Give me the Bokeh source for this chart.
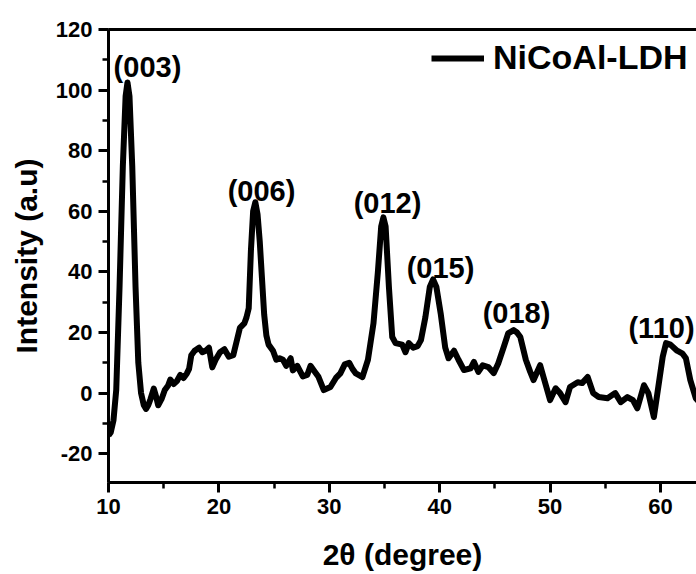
from bokeh.plotting import figure
from bokeh.models import (LinearAxis, SingleIntervalTicker, Range1d, Legend, LegendItem,
                          ColumnDataSource, PrintfTickFormatter)
from bokeh.core.properties import value
from bokeh.embed import file_html
from bokeh.resources import INLINE

# ---- data ----
two_theta = [10.0, 10.2, 10.45, 10.7, 11.0, 11.3, 11.55, 11.72, 11.9, 12.15, 12.45, 12.7, 12.95,
             13.2, 13.4, 13.6, 13.8, 14.1, 14.3, 14.5, 14.8, 15.1, 15.4, 15.6, 15.9, 16.2, 16.5,
             16.8, 17.1, 17.3, 17.5, 17.8, 18.2, 18.5, 18.8, 19.1, 19.4, 19.7, 20.1, 20.5, 20.9,
             21.3, 21.6, 21.9, 22.3, 22.5, 22.7, 22.9, 23.1, 23.3, 23.5, 23.7, 23.9, 24.1, 24.3,
             24.5, 24.9, 25.2,
             25.5, 25.8, 26.1, 26.5, 26.7, 27.1, 27.6, 28.0, 28.3, 28.7, 29.0, 29.5, 30.1, 30.6,
             31.0, 31.4, 31.8, 32.1, 32.4, 33.0, 33.5, 34.0, 34.4, 34.7, 34.9, 35.1, 35.4, 35.7,
             36.0, 36.6, 36.9, 37.2, 37.6, 38.0, 38.3, 38.7, 39.1, 39.4, 39.7, 40.1, 40.5, 40.8,
             41.3, 41.7, 42.2, 42.8, 43.1, 43.5, 43.9, 44.4, 44.9, 45.3, 45.8, 46.2, 46.7, 47.0,
             47.3, 47.8, 48.2, 48.5, 49.1, 49.4, 50.0, 50.5, 50.9, 51.4, 51.8, 52.5, 52.9, 53.4,
             53.9, 54.4, 55.2, 55.9, 56.4, 57.0, 57.5, 57.9, 58.5, 58.9, 59.4, 59.8, 60.2, 60.5,
             60.9, 61.5, 62.0, 62.3, 62.7, 63.2, 63.5]
intensity = [-14, -13, -9, 1, 35, 75, 98, 102.5, 98, 75, 35, 10, 0,
             -4, -5.2, -4, -2, 1.5, -1, -4, -2, 1, 2.5, 4.5, 3, 4, 6,
             5, 6.5, 8, 12.5, 14, 15, 13.5, 14, 15, 8.5, 11, 13.5, 14.5, 12,
             12.5, 17, 21.5, 23, 25, 28, 47, 60, 63, 59, 50, 38, 26, 19,
             16, 14, 11,
             11.5, 11, 9, 11.5, 7.5, 9, 5.5, 6, 9, 7, 5.5, 1, 2, 5,
             6.5, 9.5, 10, 8, 6.5, 5.3, 11, 23, 40, 55, 58, 55, 35, 18.5,
             16.5, 16, 13.5, 16.5, 15, 15.5, 17.5, 25, 35, 37.5, 35, 26, 15, 11.5,
             14, 11, 7.6, 8.2, 10.3, 7, 9.2, 8.6, 6.6, 9.8, 15.2, 19.7, 20.8, 20,
             18.5, 11, 7, 4.3, 9.2, 5.3, -2.3, 1.6, 0, -3, 2, 3.6, 3.3, 5.3,
             0, -1.3, -1.7, 0, -3, -1.3, -2.3, -5, 2.6, 0, -7.9, 2, 12, 16.5,
             16, 14, 13, 11.5, 4.3, -1.7, -3]

peak_labels = ["(003)", "(006)", "(012)", "(015)", "(018)", "(110)"]
peak_x = [13.53, 23.86, 35.27, 40.07, 46.96, 60.09]
peak_y = [104.2, 63.3, 59.3, 37.9, 23.1, 18.1]

series_name = "NiCoAl-LDH"
x_title = "2θ (degree)"
y_title = "Intensity (a.u)"

FONT = "Liberation Sans"

p = figure(width=696, height=574, output_backend="svg", toolbar_location=None,
           x_range=Range1d(10, 63.26), y_range=Range1d(-29.5, 120),
           min_border_left=108, min_border_right=0, min_border_top=29, min_border_bottom=92,
           x_axis_type=None, y_axis_type=None)
p.outline_line_color = None
p.xgrid.visible = False
p.ygrid.visible = False
p.background_fill_color = "white"
p.border_fill_color = "white"

def style_axis(ax):
    ax.axis_line_width = 3
    ax.axis_line_color = "black"
    ax.major_tick_line_width = 3
    ax.minor_tick_line_width = 2.5
    ax.major_tick_in = 0
    ax.minor_tick_in = 0
    ax.major_tick_out = 10
    ax.minor_tick_out = 6
    ax.major_label_text_font = FONT
    ax.major_label_text_font_style = "bold"
    ax.major_label_text_font_size = "22px"
    ax.major_label_text_color = "black"
    ax.axis_label_text_font = FONT
    ax.axis_label_text_font_style = "bold"
    ax.axis_label_text_font_size = "30px"
    ax.axis_label_text_color = "black"
    ax.formatter = PrintfTickFormatter(format="%d")

xaxis = LinearAxis(ticker=SingleIntervalTicker(interval=10, num_minor_ticks=2), axis_label=x_title)
style_axis(xaxis)
xaxis.major_label_standoff = 6
xaxis.axis_label_standoff = 21
p.add_layout(xaxis, "below")

yaxis = LinearAxis(ticker=SingleIntervalTicker(interval=20, num_minor_ticks=2), axis_label=y_title)
style_axis(yaxis)
yaxis.major_label_standoff = 6
yaxis.axis_label_standoff = 10
p.add_layout(yaxis, "left")

top = LinearAxis(ticker=SingleIntervalTicker(interval=10, num_minor_ticks=2))
top.axis_line_width = 3
top.major_tick_out = 0
top.major_tick_in = 0
top.minor_tick_out = 0
top.minor_tick_in = 0
top.major_label_text_font_size = "0px"
top.major_label_text_alpha = 0
p.add_layout(top, "above")

src = ColumnDataSource(dict(x=two_theta, y=intensity))
r = p.line("x", "y", source=src, line_width=6, line_color="black", line_join="round")

lab_src = ColumnDataSource(dict(x=peak_x, y=peak_y, t=peak_labels))
p.text("x", "y", text="t", source=lab_src, text_font=value(FONT), text_font_style="bold",
       text_font_size="29px", text_align="center", text_baseline="alphabetic", text_color="black",
       y_offset=-10)

legend = Legend(items=[LegendItem(label=series_name, renderers=[r])],
                location=(323, 405), glyph_width=53, glyph_height=30,
                label_text_font=FONT, label_text_font_style="bold", label_text_font_size="34px",
                label_text_color="black",
                label_standoff=9, padding=0, margin=0, spacing=0,
                border_line_color=None, background_fill_alpha=0)
p.add_layout(legend, "center")

open("out.html", "w").write(file_html(p, INLINE))
